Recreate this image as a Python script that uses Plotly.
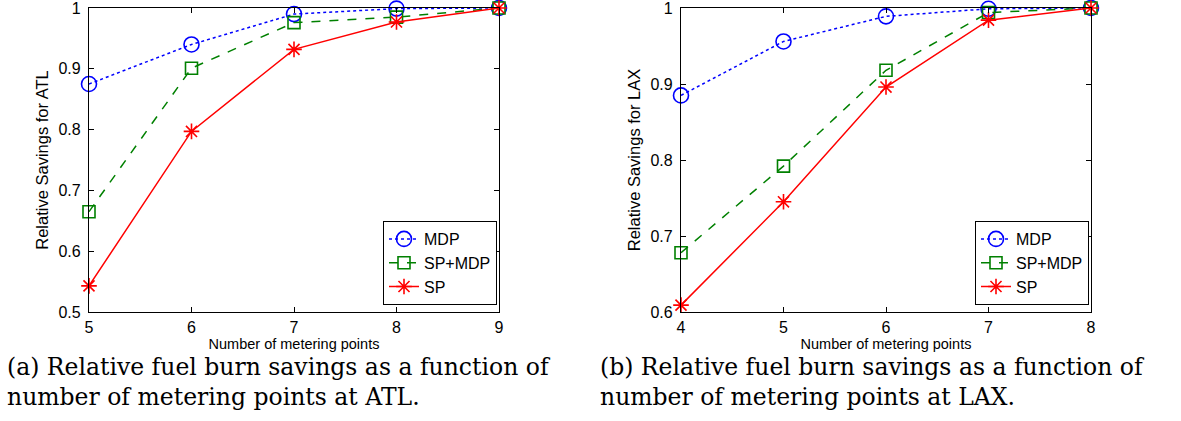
import plotly.graph_objects as go

# Number of metering points for each airport
atl_points = [5, 6, 7, 8, 9]
lax_points = [4, 5, 6, 7, 8]

# Relative savings at ATL
atl_mdp = [0.875, 0.940, 0.990, 0.999, 1.0]
atl_sp_mdp = [0.665, 0.901, 0.976, 0.985, 1.0]
atl_sp = [0.543, 0.797, 0.932, 0.977, 1.0]

# Relative savings at LAX
lax_mdp = [0.885, 0.956, 0.989, 0.999, 1.0]
lax_sp_mdp = [0.678, 0.792, 0.918, 0.994, 1.0]
lax_sp = [0.609, 0.745, 0.896, 0.984, 1.0]

series_names = ["MDP", "SP+MDP", "SP"]
atl_yticks = [0.5, 0.6, 0.7, 0.8, 0.9, 1.0]
atl_ytext = ["0.5", "0.6", "0.7", "0.8", "0.9", "1"]
lax_yticks = [0.6, 0.7, 0.8, 0.9, 1.0]
lax_ytext = ["0.6", "0.7", "0.8", "0.9", "1"]
captions_a = ["(a) Relative fuel burn savings as a function of",
              "number of metering points at ATL."]
captions_b = ["(b) Relative fuel burn savings as a function of",
              "number of metering points at LAX."]

W, H = 1181, 421
styles = [
    dict(color="#0000ff", dash="dot", symbol="circle-open", size=15),
    dict(color="#008000", dash="dash", symbol="square-open", size=12),
    dict(color="#ff0000", dash="solid", symbol="asterisk-open", size=13),
]

fig = go.Figure()


def add_panel(xs, ys_list, xaxis, yaxis, legend):
    for name, ys, st in zip(series_names, ys_list, styles):
        fig.add_trace(go.Scatter(
            x=xs, y=ys, name=name, mode="lines+markers",
            xaxis=xaxis, yaxis=yaxis, legend=legend,
            line=dict(color=st["color"], dash=st["dash"], width=1.5),
            marker=dict(symbol=st["symbol"], size=st["size"],
                        color=st["color"], line=dict(width=1.6, color=st["color"])),
            cliponaxis=False,
        ))


add_panel(atl_points, [atl_mdp, atl_sp_mdp, atl_sp], "x", "y", "legend")
add_panel(lax_points, [lax_mdp, lax_sp_mdp, lax_sp], "x2", "y2", "legend2")


def px_x(p):
    return p / W


def px_y(p):
    return 1 - p / H


axis_common = dict(
    showline=True, linecolor="black", linewidth=1.2, mirror="ticks",
    ticks="inside", ticklen=5, tickcolor="black", showgrid=False,
    zeroline=False, tickfont=dict(family="Arial", size=16, color="black"),
    ticklabeloverflow="allow", automargin=False,
)
xtitle_font = dict(family="Arial", size=14.5, color="black")
ytitle_font = dict(family="Arial", size=16.5, color="black")

legend_common = dict(
    bordercolor="black", borderwidth=1, bgcolor="white",
    font=dict(family="Arial", size=16, color="black"),
    xanchor="right", yanchor="bottom", tracegroupgap=0,
    itemwidth=30,
)

fig.update_layout(
    width=W, height=H,
    margin=dict(l=0, r=0, t=0, b=0, autoexpand=False),
    paper_bgcolor="white", plot_bgcolor="white",
    showlegend=True,
    xaxis=dict(domain=[px_x(89), px_x(499)], range=[5, 9], dtick=1,
               anchor="y", ticklabelstandoff=1,
               title=dict(text="Number of metering points",
                          font=xtitle_font, standoff=3),
               **axis_common),
    yaxis=dict(domain=[px_y(312), px_y(8)], range=[0.5, 1.0],
               tickvals=atl_yticks, ticktext=atl_ytext,
               anchor="x", ticklabelstandoff=4,
               title=dict(text="Relative Savings for ATL",
                          font=ytitle_font, standoff=5),
               **axis_common),
    xaxis2=dict(domain=[px_x(681), px_x(1091)], range=[4, 8], dtick=1,
                anchor="y2", ticklabelstandoff=1,
                title=dict(text="Number of metering points",
                           font=xtitle_font, standoff=3),
                **axis_common),
    yaxis2=dict(domain=[px_y(312), px_y(8)], range=[0.6, 1.0],
                tickvals=lax_yticks, ticktext=lax_ytext,
                anchor="x2", ticklabelstandoff=4,
                title=dict(text="Relative Savings for LAX",
                           font=ytitle_font, standoff=5),
                **axis_common),
    legend=dict(x=px_x(497), y=px_y(305), **legend_common),
    legend2=dict(x=px_x(1089), y=px_y(305), **legend_common),
)

caption_font = dict(family="DejaVu Serif", size=23.5, color="black")
for x0, lines in [(5, captions_a), (598, captions_b)]:
    for i, txt in enumerate(lines):
        fig.add_annotation(
            text=txt, xref="paper", yref="paper",
            x=px_x(x0), y=px_y(367 + 30 * i),
            xanchor="left", yanchor="middle", showarrow=False,
            font=caption_font,
        )

fig.write_html("out.html")
